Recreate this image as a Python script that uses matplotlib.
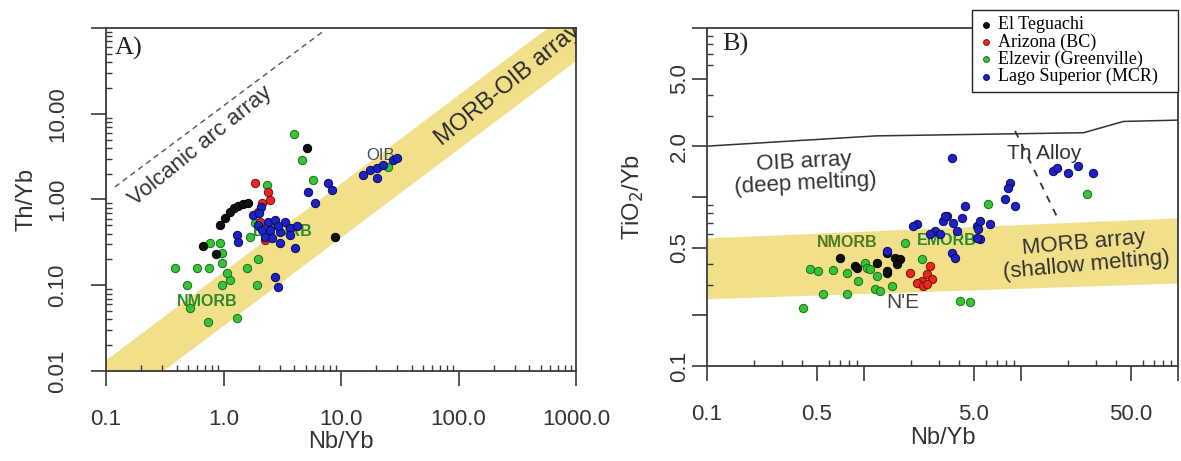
import matplotlib
matplotlib.use("Agg")
import matplotlib.pyplot as plt
import numpy as np
from matplotlib.ticker import FixedLocator, LogLocator, NullFormatter

plt.rcParams['font.family'] = ['Liberation Sans', 'DejaVu Sans']

# --- Th/Yb vs Nb/Yb (panel A) ---
a_teg_nb = [0.93, 1.03, 1.135, 1.23, 1.33, 1.47, 1.62, 0.67, 0.86, 8.89, 5.14]
a_teg_th = [0.50, 0.61, 0.71, 0.80, 0.84, 0.88, 0.91, 0.29, 0.23, 0.37, 3.99]

a_ari_nb = [1.85, 2.39, 2.13, 1.97, 2.26, 2.49, 2.05]
a_ari_th = [1.56, 1.22, 0.91, 0.71, 0.34, 0.99, 0.55]

a_elz_nb = [0.386, 0.594, 0.75, 0.97, 0.489, 0.97, 1.135, 1.58, 1.97, 1.93, 1.07,
            0.767, 0.933, 0.97, 0.519, 0.738, 1.30, 3.98, 4.66, 5.78, 2.35, 1.85,
            25.1, 1.68]
a_elz_th = [0.16, 0.16, 0.16, 0.18, 0.10, 0.10, 0.115, 0.16, 0.20, 0.10, 0.14,
            0.31, 0.31, 0.24, 0.054, 0.037, 0.042, 5.8, 2.89, 1.69, 1.48, 0.53,
            2.39, 0.37]

a_lag_nb = [1.78, 1.97, 2.13, 2.39, 2.74, 3.34, 3.68, 3.03, 2.26, 2.59, 3.68, 4.22,
            2.91, 2.49, 3.03, 4.06, 2.74, 2.91, 1.30, 1.33, 5.24, 7.75, 8.38, 6.01,
            15.4, 17.7, 20.2, 22.8, 27.7, 30.0, 20.2, 2.09, 2.0]
a_lag_th = [0.66, 0.50, 0.44, 0.55, 0.58, 0.55, 0.47, 0.42, 0.37, 0.36, 0.39, 0.49,
            0.49, 0.44, 0.31, 0.27, 0.125, 0.095, 0.39, 0.32, 1.22, 1.56, 1.29, 0.91,
            1.93, 2.21, 2.33, 2.52, 2.89, 3.05, 1.78, 0.82, 0.70]

# reference fields, panel A
arc_x = [0.119, 7.31]
arc_y = [1.40, 94.8]
mo_x = [0.1, 1000]
mo_lo = [0.0032, 42]
mo_hi = [0.0136, 180]

# --- TiO2/Yb vs Nb/Yb (panel B) ---
b_teg_nb = [0.703, 0.877, 1.21, 1.40, 1.57, 0.902, 1.40, 1.69, 1.62, 1.40]
b_teg_ti = [0.436, 0.391, 0.407, 0.356, 0.436, 0.381, 0.467, 0.430, 0.402, 0.366]

b_ari_nb = [2.34, 2.52, 2.63, 2.18, 2.71, 1.96, 2.38, 2.52]
b_ari_ti = [0.319, 0.351, 0.391, 0.310, 0.328, 0.356, 0.298, 0.305]

b_elz_nb = [0.408, 0.453, 0.509, 0.635, 0.779, 1.01, 1.045, 1.09, 0.916, 1.21,
            1.175, 1.26, 0.548, 0.779, 1.82, 2.34, 1.51, 4.09, 4.73, 6.17, 26.3]
b_elz_ti = [0.221, 0.376, 0.366, 0.371, 0.356, 0.407, 0.381, 0.376, 0.319, 0.341,
            0.286, 0.279, 0.267, 0.267, 0.536, 0.430, 0.298, 0.243, 0.239, 0.91, 1.04]

b_lag_nb = [1.40, 2.18, 2.83, 3.18, 3.38, 3.69, 3.05, 2.05, 2.63, 3.91, 5.24, 5.48,
            3.64, 3.80, 3.64, 4.40, 3.28, 4.21, 5.48, 6.35, 5.32, 5.24, 8.51, 8.26,
            7.91, 9.16, 16.0, 16.9, 19.9, 23.1, 28.7]
b_lag_ti = [0.48, 0.693, 0.631, 0.723, 0.773, 0.703, 0.605, 0.675, 0.605, 0.631, 0.675, 0.565,
            0.467, 0.436, 1.71, 0.887, 0.773, 0.753, 0.723, 0.693, 0.647, 0.573, 1.21, 1.13,
            0.975, 0.887, 1.43, 1.49, 1.39, 1.53, 1.39]

# reference fields, panel B
oib_x = [0.1, 1.2, 25, 45, 100]
oib_y = [2.0, 2.3, 2.4, 2.8, 2.85]
morb_x = [0.1, 100]
morb_lo = [0.25, 0.31]
morb_hi = [0.573, 0.753]
thal_x = [9.17, 17.2]
thal_y = [2.46, 0.743]

series = [
    ('El Teguachi', '#111111', '#000000'),
    ('Arizona (BC)', '#e8281e', '#7a1010'),
    ('Elzevir (Greenville)', '#38c238', '#1b6e1b'),
    ('Lago Superior (MCR)', '#1c22c8', '#0b0b55'),
]

band_col = '#f2df8a'
ink = '#333333'

fig = plt.figure(figsize=(11.81, 4.61), dpi=100)
axA = fig.add_axes([106/1181, 90/461, 470/1181, 343/461])
axB = fig.add_axes([707/1181, 95/461, 471/1181, 338/461])


def style_axis(ax):
    ax.set_xscale('log')
    ax.set_yscale('log')
    for s in ax.spines.values():
        s.set_color('#3a3a3a')
        s.set_linewidth(1.3)
    ax.tick_params(which='major', direction='out', length=11, width=1.2,
                   color='#3a3a3a', labelsize=16, labelcolor='#333333')
    ax.tick_params(which='minor', direction='in', length=4, width=1.0,
                   color='#3a3a3a')
    for axis in (ax.xaxis, ax.yaxis):
        axis.set_minor_locator(LogLocator(base=10, subs=np.arange(2, 10), numticks=30))
        axis.set_minor_formatter(NullFormatter())


def draw_points(ax, data):
    order = [2, 0, 1, 3]
    handles = {}
    for i in order:
        name, fc, ec = series[i]
        xs, ys = data[i]
        handles[i] = ax.scatter(xs, ys, s=36, c=fc, edgecolors=ec, linewidths=0.7,
                                zorder=3, label=name)
    return [handles[i] for i in range(4)]


# panel A
style_axis(axA)
axA.set_xlim(0.1, 1000)
axA.set_ylim(0.01, 100)
axA.fill_between(mo_x, mo_lo, mo_hi, color=band_col, lw=0, zorder=0)
axA.plot(arc_x, arc_y, color='#555555', lw=1, ls=(0, (4, 3)), zorder=1)
draw_points(axA, [(a_teg_nb, a_teg_th), (a_ari_nb, a_ari_th),
                  (a_elz_nb, a_elz_th), (a_lag_nb, a_lag_th)])

axA.xaxis.set_major_locator(FixedLocator([0.1, 1, 10, 100, 1000]))
axA.set_xticklabels(['0.1', '1.0', '10.0', '100.0', '1000.0'])
axA.yaxis.set_major_locator(FixedLocator([0.01, 0.1, 1, 10, 100]))
axA.set_yticklabels(['0.01', '0.10', '1.00', '10.00', ''], rotation=90, va='center')
axA.tick_params(axis='both', which='major', pad=16)

axA.set_xlabel('Nb/Yb', fontsize=17, color=ink)
axA.set_ylabel('Th/Yb', fontsize=17, color=ink)
axA.xaxis.set_label_coords(0.5, -0.175)
axA.yaxis.set_label_coords(-0.145, 0.5)

axA.text(0.019, 0.975, 'A)', transform=axA.transAxes, family='Liberation Serif',
         fontsize=19, va='top', ha='left', color='#222222')
axA.text(0.631, 4.21, 'Volcanic arc array', fontsize=16, rotation=39,
         rotation_mode='anchor', ha='center', va='center', color=ink)
axA.text(262, 21.5, 'MORB-OIB array', fontsize=17, rotation=39,
         rotation_mode='anchor', ha='center', va='center', color='#2a2a2a',
         clip_on=True)
axA.text(0.724, 0.064, 'NMORB', fontsize=11.5, fontweight='bold', color='#2a8a2a',
         ha='center', va='center', zorder=2.5)
axA.text(3.21, 0.418, 'EMORB', fontsize=11.5, fontweight='bold', color='#2a8a2a',
         ha='center', va='center', zorder=2.5)
axA.text(21.9, 3.30, 'OIB', fontsize=12, color='#3a4f6a', ha='center', va='center',
         zorder=2.5)

# panel B
style_axis(axB)
axB.set_xlim(0.1, 100)
axB.set_ylim(0.1, 10)
axB.fill_between(morb_x, morb_lo, morb_hi, color=band_col, lw=0, zorder=0)
axB.plot(oib_x, oib_y, color='#333333', lw=1.1, zorder=1)
axB.plot(thal_x, thal_y, color='#333333', lw=1.3, ls=(0, (4, 4)), zorder=1)
hB = draw_points(axB, [(b_teg_nb, b_teg_ti), (b_ari_nb, b_ari_ti),
                       (b_elz_nb, b_elz_ti), (b_lag_nb, b_lag_ti)])

axB.xaxis.set_major_locator(FixedLocator([0.1, 0.5, 1, 5, 10, 50, 100]))
axB.set_xticklabels(['0.1', '0.5', '', '5.0', '', '50.0', ''])
axB.yaxis.set_major_locator(FixedLocator([0.1, 0.2, 0.5, 1, 2, 5, 10]))
axB.set_yticklabels(['0.1', '', '0.5', '', '2.0', '5.0', ''], rotation=90, va='center')
axB.tick_params(axis='x', which='major', pad=16)
axB.tick_params(axis='y', which='major', pad=1)

axB.set_xlabel('Nb/Yb', fontsize=17, color=ink)
axB.set_ylabel('TiO$_2$/Yb', fontsize=17, color=ink)
axB.xaxis.set_label_coords(0.5, -0.18)
axB.yaxis.set_label_coords(-0.13, 0.5)

axB.text(0.032, 0.985, 'B)', transform=axB.transAxes, family='Liberation Serif',
         fontsize=19, va='top', ha='left', color='#222222')
axB.text(0.42, 1.39, 'OIB array\n(deep melting)', fontsize=16, rotation=3,
         ha='center', va='center', multialignment='center', linespacing=1.1,
         color=ink)
axB.text(25.6, 0.46, 'MORB array\n(shallow melting)', fontsize=16, rotation=5,
         ha='center', va='center', multialignment='center', linespacing=1.1,
         color=ink)
axB.text(14.0, 1.80, 'Th Alloy', fontsize=15, ha='center', va='center', color=ink,
         zorder=2.5)
axB.text(0.78, 0.536, 'NMORB', fontsize=11.5, fontweight='bold', color='#4a7a22',
         ha='center', va='center', zorder=2.5)
axB.text(3.38, 0.55, 'EMORB', fontsize=11.5, fontweight='bold', color='#2a8a2a',
         ha='center', va='center', zorder=2.5)
axB.text(1.77, 0.237, "N'E", fontsize=15, color='#444444', ha='center', va='center',
         zorder=2.5)

leg = axB.legend(handles=hB, loc='upper left', bbox_to_anchor=(0.563, 0.0, 0.437, 1.053),
                 mode='expand', borderaxespad=0, fancybox=False, framealpha=1,
                 edgecolor='#222222', prop={'family': 'Liberation Serif', 'size': 13},
                 labelspacing=0.0, handletextpad=0.3, handlelength=0.8,
                 borderpad=0.35, markerscale=0.7)
leg.get_frame().set_linewidth(1.0)
leg.set_zorder(10)

fig.savefig('out.png', dpi=100)
